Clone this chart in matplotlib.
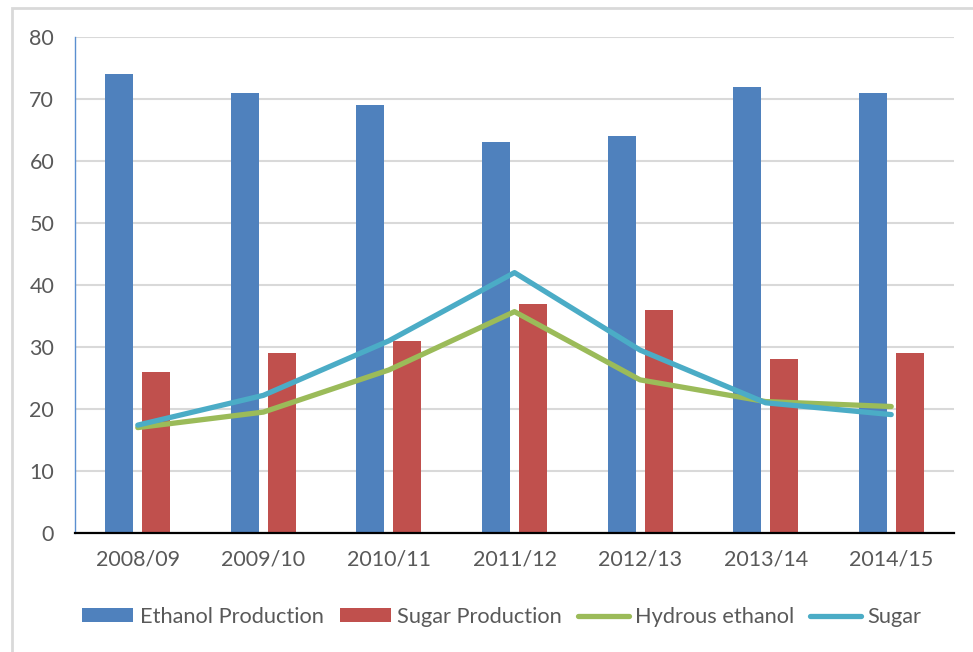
import matplotlib
matplotlib.use("Agg")
import matplotlib.pyplot as plt
import numpy as np
from matplotlib.patches import Rectangle

seasons = ["2008/09", "2009/10", "2010/11", "2011/12", "2012/13", "2013/14", "2014/15"]
ethanol_production = [74, 71, 69, 63, 64, 72, 71]
sugar_production = [26, 29, 31, 37, 36, 28, 29]
hydrous_ethanol = [17.0, 19.5, 26.3, 35.7, 24.7, 21.2, 20.4]
sugar = [17.4, 22.2, 31.0, 42.0, 29.5, 21.0, 19.1]
y_ticks = [0, 10, 20, 30, 40, 50, 60, 70, 80]

c_blue = "#4F81BD"
c_red = "#C0504D"
c_green = "#9BBB59"
c_cyan = "#4BACC6"
txt = "#595959"

plt.rcParams['font.family'] = ['Lato', 'DejaVu Sans']

fig = plt.figure(figsize=(9.73, 6.52), dpi=100)
ax = fig.add_axes([75/973, 1-533/652, (954-75)/973, (533-37)/652])

x = np.arange(len(seasons))
bw = 0.223
gap = 0.072
b1 = ax.bar(x - (bw+gap)/2, ethanol_production, width=bw, color=c_blue, zorder=2, label="Ethanol Production")
b2 = ax.bar(x + (bw+gap)/2, sugar_production, width=bw, color=c_red, zorder=2, label="Sugar Production")
l1, = ax.plot(x, hydrous_ethanol, color=c_green, lw=3.8, zorder=3, solid_capstyle='round', solid_joinstyle='round', label="Hydrous ethanol")
l2, = ax.plot(x, sugar, color=c_cyan, lw=3.8, zorder=4, solid_capstyle='round', solid_joinstyle='round', label="Sugar")

ax.set_xlim(-0.5, len(seasons)-0.5)
ax.set_ylim(0, 80)
ax.set_yticks(y_ticks)
ax.set_xticks(x, seasons)
ax.grid(axis='y', color="#D9D9D9", lw=1.5, zorder=0)
ax.set_axisbelow(True)
for s in ['top', 'right']:
    ax.spines[s].set_visible(False)
ax.spines['left'].set_color("#5B8FD0")
ax.spines['left'].set_linewidth(1.0)
ax.spines['bottom'].set_color("#000000")
ax.spines['bottom'].set_linewidth(1.6)
ax.spines['bottom'].set_zorder(5)
ax.tick_params(axis='both', length=0, labelsize=15.5, labelcolor=txt)
ax.tick_params(axis='y', pad=15)
ax.tick_params(axis='x', pad=12)

fig.legend([b1, b2, l1, l2], ["Ethanol Production", "Sugar Production", "Hydrous ethanol", "Sugar"],
           loc='center', bbox_to_anchor=(502/973, 1-617/652), ncol=4,
           frameon=False, fontsize=15.7, handlelength=2.34, handleheight=0.59,
           handletextpad=0.3, columnspacing=0.72, labelcolor=txt, borderpad=0, borderaxespad=0)

fig.patches.append(Rectangle((12/973, -0.1), 1.2, 1 - 8/652 + 0.1, transform=fig.transFigure,
                             fill=False, edgecolor="#D9D9D9", lw=2, zorder=0))

fig.savefig("out.png", dpi=100)
